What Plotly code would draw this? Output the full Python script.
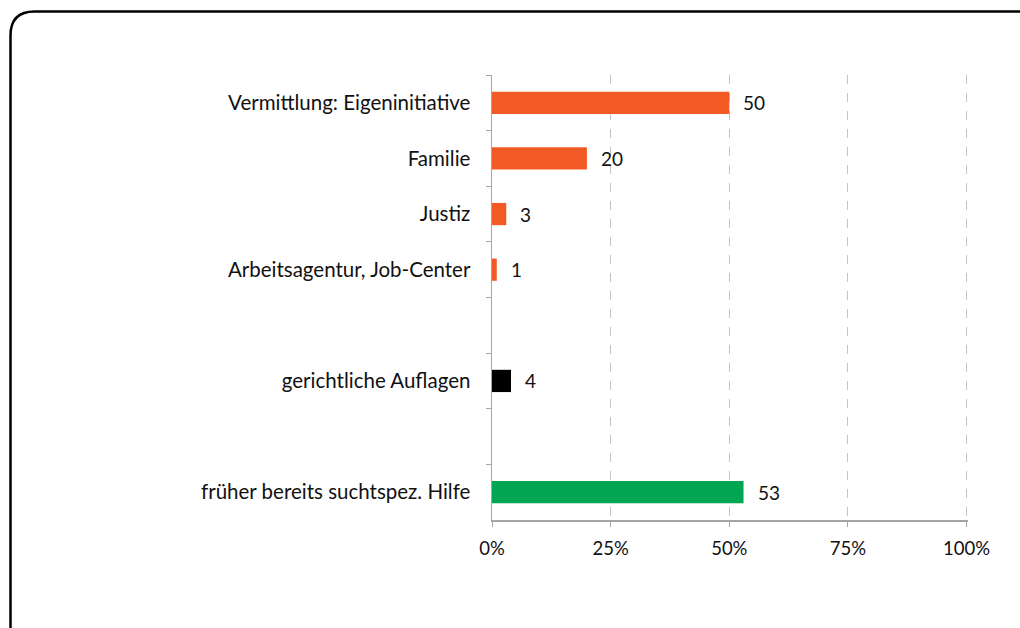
import plotly.graph_objects as go

categories = ["Vermittlung: Eigeninitiative", "Familie", "Justiz",
              "Arbeitsagentur, Job-Center", " ", "gerichtliche Auflagen",
              "  ", "früher bereits suchtspez. Hilfe"]
values = [50, 20, 3, 1, None, 4, None, 53]
colors = ["#F15A25", "#F15A25", "#F15A25", "#F15A25", "#FFFFFF",
          "#000000", "#FFFFFF", "#00A651"]
tick_vals = [0, 25, 50, 75, 100]
tick_text = ["0%", "25%", "50%", "75%", "100%"]

W, H = 1020, 628
XMAX = 100.3
L, T, B = 492, 75, 108
pw = round(475 * XMAX / 100)
R = W - L - pw
ph = H - T - B

FONT = "Lato"

fig = go.Figure()
fig.add_trace(go.Bar(
    y=categories, x=values, orientation="h",
    marker=dict(color=colors, line=dict(width=0)),
    width=0.4, hoverinfo="skip", showlegend=False,
))

for c, v in zip(categories, values):
    if v is None:
        continue
    fig.add_annotation(x=v, y=c, xref="x", yref="y", text=str(v),
                       showarrow=False, xanchor="left", xshift=12,
                       font=dict(family=FONT, size=19, color="#111111"))

# rounded border (paper coords)
def px2px(x):
    return (x - L) / pw

def py2py(y):
    return (H - B - y) / ph

x0, x1 = px2px(10.5), px2px(1030)
y0, y1 = py2py(11.5), py2py(640)
rx, ry = 24 / pw, 24 / ph
path = (f"M {x0},{y1} L {x0},{y0 - ry} Q {x0},{y0} {x0 + rx},{y0} "
        f"L {x1},{y0}")
fig.add_shape(type="path", path=path, xref="paper", yref="paper",
              line=dict(color="#000000", width=2.5), layer="above")

fig.update_layout(
    width=W, height=H,
    margin=dict(l=L, r=R, t=T, b=B, pad=0),
    paper_bgcolor="white", plot_bgcolor="white",
    font=dict(family=FONT, size=20.5, color="#111111"),
    bargap=0.6,
)
fig.update_xaxes(
    range=[0, XMAX], tickvals=tick_vals, ticktext=tick_text,
    tickfont=dict(size=18.5),
    showgrid=True, gridcolor="#C4C4C4", griddash="dash", gridwidth=1,
    showline=True, linecolor="#A6A6A6", linewidth=1.5,
    ticks="outside", ticklen=5, tickcolor="#A6A6A6",
    zeroline=False, ticklabelstandoff=6, fixedrange=True,
)
fig.update_yaxes(
    type="category", categoryorder="array", categoryarray=categories,
    autorange="reversed", tickfont=dict(size=20.5),
    showgrid=False, showline=True, linecolor="#A6A6A6", linewidth=1.5,
    ticks="outside", ticklen=5, tickcolor="#A6A6A6", tickson="boundaries",
    ticklabelstandoff=16, zeroline=False, fixedrange=True,
)

fig.write_html(
    "out.html",
    config={"displayModeBar": False, "staticPlot": True},
    post_script="document.body.style.margin='0';document.body.style.overflow='hidden';",
)
